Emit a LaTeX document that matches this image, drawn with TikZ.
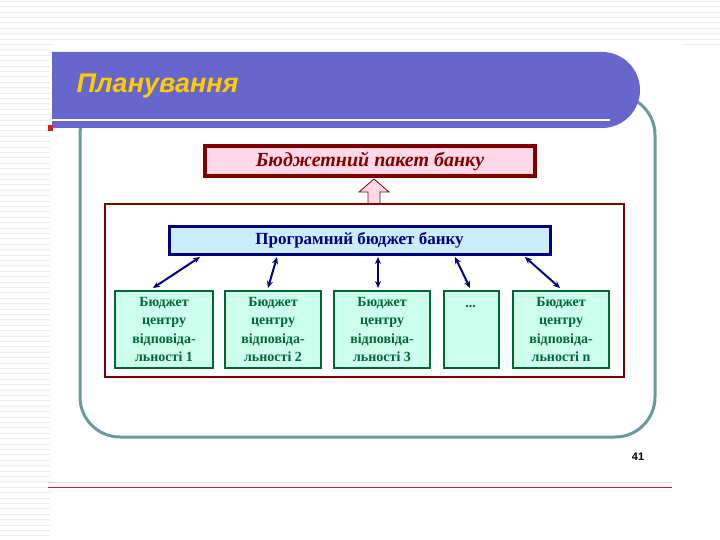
\documentclass[tikz,border=0pt]{standalone}
\usepackage{fontspec}
\setmainfont{Liberation Serif}
\newfontfamily\titlefont{Liberation Sans}
\usetikzlibrary{arrows.meta}
\definecolor{barblue}{HTML}{6666CC}
\definecolor{frameteal}{HTML}{6A9A9A}
\definecolor{dred}{HTML}{800000}
\definecolor{pinkf}{HTML}{FFD9E8}
\definecolor{navy}{HTML}{000080}
\definecolor{lblue}{HTML}{CCECFF}
\definecolor{dgreen}{HTML}{006633}
\definecolor{mint}{HTML}{CCFFEE}
\definecolor{gold}{HTML}{FFCC00}
\definecolor{lred}{HTML}{D02020}
\tikzset{
 cbox/.style={draw=dgreen,line width=2pt,fill=mint,minimum height=77pt,align=center,text=dgreen,font=\bfseries\fontsize{14}{18.5}\selectfont,anchor=north west,inner sep=0pt},
 conn/.style={navy,line width=2pt,{Stealth[length=7pt,width=6pt]}-{Stealth[length=7pt,width=6pt]}}
}
\begin{document}
\begin{tikzpicture}[x=1pt,y=-1pt]
\useasboundingbox (0,0) rectangle (720,540);
\fill[white] (0,0) rectangle (720,540);
\foreach \i in {0,...,100}{\draw[gray!15,line width=0.5pt] (0,{\i*5.4+1}) -- (50,{\i*5.4+1});}
\foreach \i in {0,...,8}{\draw[gray!15,line width=0.5pt] (50,{\i*5.4+1}) -- (720,{\i*5.4+1});}
\fill[white] (52,44) rectangle (682,478);
% frame
\draw[frameteal,line width=3pt,rounded corners=40pt] (80,95) rectangle (655,437);
% title bar
\fill[barblue] (52,52) -- (602,52) arc[start angle=-90,end angle=90,radius=38] -- (52,128) -- cycle;
\draw[white,line width=2.5pt] (52,120) -- (610,120);
\fill[lred] (48,125) rectangle (53,131);
\node[anchor=west,font=\titlefont\bfseries\itshape\fontsize{27}{30}\selectfont,text=gold] (title) at (73,86) {Планування};
% top box
\node[draw=dred,line width=4pt,fill=pinkf,minimum width=330pt,minimum height=30pt,text=dred,font=\bfseries\itshape\fontsize{20}{22}\selectfont] (pak) at (370,161) {Бюджетний пакет банку};
% big box
\draw[dred,line width=2.5pt,fill=white] (105,204) rectangle (624,377);
% hollow arrow
\draw[dred,line width=0.8pt,fill=pinkf] (368,203) -- (368,192) -- (359,192) -- (374,179) -- (389,192) -- (380,192) -- (380,203);
% program box
\node[draw=navy,line width=3pt,fill=lblue,minimum width=381pt,minimum height=27pt,text=navy,font=\bfseries\fontsize{17}{19}\selectfont] (prog) at (359.5,240.5) {Програмний бюджет банку};
% bottom boxes
\node[cbox,minimum width=98pt] (b1) at (114,290) {Бюджет\\центру\\відповіда-\\льності 1};
\node[cbox,minimum width=96pt] (b2) at (224,290) {Бюджет\\центру\\відповіда-\\льності 2};
\node[cbox,minimum width=96pt] (b3) at (333,290) {Бюджет\\центру\\відповіда-\\льності 3};
\node[cbox,minimum width=55pt,minimum height=77pt] (b4) at (443,290) {};
\node[text=dgreen,font=\bfseries\fontsize{14}{18}\selectfont] at (470.5,307) {...};
\node[cbox,minimum width=96pt] (b5) at (512,290) {Бюджет\\центру\\відповіда-\\льності n};
% arrows
\draw[conn] (200,257) -- (153,288);
\draw[conn] (277,257) -- (268,288);
\draw[conn] (378,257) -- (378,288);
\draw[conn] (455,257) -- (470,288);
\draw[conn] (525,257) -- (560,288);
% page number and lines
\node[font=\titlefont\bfseries\fontsize{11}{13}\selectfont] (num) at (638,457) {41};
\draw[gray!30,line width=0.6pt] (48,482) -- (672,482);
\draw[lred,line width=0.8pt] (48,487) -- (672,487);
\end{tikzpicture}
\end{document}
